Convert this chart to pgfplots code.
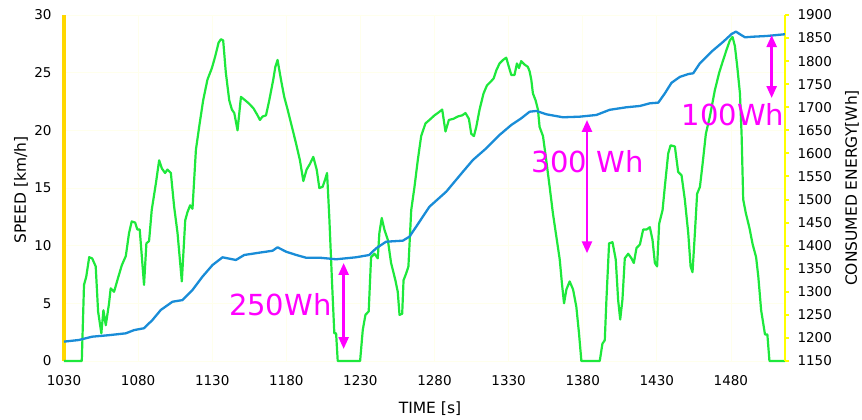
\documentclass[border=0pt]{standalone}
\usepackage{fontspec}
\setmainfont{DejaVu Sans}
\usepackage{pgfplots}
\usepackage{pgfplotstable}
\pgfplotsset{compat=1.18}
\usetikzlibrary{arrows.meta}
\definecolor{spgreen}{RGB}{30,232,60}
\definecolor{enblue}{RGB}{25,140,215}
\definecolor{goldax}{RGB}{255,215,0}
\definecolor{yelax}{RGB}{255,255,0}
\definecolor{gridc}{RGB}{255,255,236}
\definecolor{mag}{RGB}{255,0,255}

\pgfplotstableread{
t v
1030 0
1042 0
1043.5 6.6
1045 7.3
1047 9.0
1049 8.9
1051.4 8.2
1053 4.3
1055.2 2.4
1056.6 4.4
1058.2 3.1
1060.4 5.0
1061.5 6.3
1063.8 6.0
1066 7.0
1069 8.3
1071.7 9.1
1073.9 11.1
1075.7 12.1
1078 12.0
1079.5 11.4
1081.1 11.4
1084 6.6
1085.6 10.2
1087.4 10.4
1089.2 13.1
1092 15.4
1094.2 17.4
1096 16.7
1098.2 16.3
1099.8 16.6
1102.1 16.3
1104.3 13.4
1106.6 11.1
1109.5 6.9
1111.8 12.2
1113.3 12.9
1115.1 13.5
1116.7 13.2
1119 18.3
1121.2 20.3
1123.9 22.6
1126.8 24.4
1129.8 25.4
1132 26.4
1134.3 27.6
1135.9 27.9
1137.4 27.8
1139.2 25.0
1141.5 22.6
1143.3 21.8
1144.9 21.5
1147.1 20.0
1149.4 22.9
1152.3 22.6
1155 22.3
1157.9 21.9
1160.6 21.3
1162.2 20.9
1164 21.2
1166.3 21.3
1168.5 22.6
1171.2 24.4
1172.6 25.5
1174.1 26.1
1176.4 24.4
1178.6 22.9
1180.9 21.8
1183.8 20.3
1186.5 18.9
1189.2 17.4
1191.5 15.6
1193.7 16.6
1196 17.1
1198.2 17.7
1200.5 16.6
1202.3 15.0
1204.5 15.1
1206.1 15.7
1207.5 16.3
1209 12.5
1210.9 6.7
1212.4 2.4
1213.6 2.4
1214.7 0
1229.8 0
1231.6 2.7
1233.4 4.0
1235.6 4.3
1237.2 9.0
1239.5 9.3
1241.7 8.9
1242.8 11.1
1244.4 12.4
1246.2 11.4
1248.5 10.5
1250.7 8.5
1253.6 7.0
1255.2 6.0
1256.4 4.0
1258.2 4.1
1259.1 7.0
1260.9 7.6
1262.4 8.2
1264.3 13.1
1266.5 15.1
1268.7 17.4
1271 19.5
1273.9 20.6
1276.6 20.9
1280 21.3
1282.2 21.5
1285.2 21.8
1287.4 19.9
1289.7 20.9
1292.8 21.0
1295.7 21.2
1298.7 21.3
1300.9 21.5
1303.2 21.0
1304.8 19.7
1306.6 19.5
1308.2 20.3
1310.4 21.8
1313.1 23.2
1315.4 23.9
1317.8 24.2
1319.9 24.5
1321.7 25.2
1323.9 25.8
1326.2 26.1
1328.4 26.3
1330.2 25.5
1331.8 24.8
1334 24.8
1335.6 25.8
1337 25.4
1338.5 26.0
1340.8 25.7
1343 25.5
1344.2 25.1
1345.3 24.4
1346.4 23.2
1348.2 22.6
1349.8 21.8
1350.9 20.3
1353.2 19.5
1355.4 17.4
1357.7 15.1
1359.9 12.8
1362.2 10.8
1364.5 8.8
1366 6.7
1367.4 5.0
1369 6.2
1371.2 6.9
1373.5 6.2
1375.7 4.7
1377.5 2.4
1379.1 0
1391.5 0
1393.3 1.5
1394.9 1.8
1396 5.3
1397.8 10.2
1400.1 10.3
1402.3 8.8
1403.9 5.3
1405.3 3.6
1406.8 5.3
1408.4 8.9
1410.7 9.3
1412.9 8.9
1414.5 8.5
1416.3 9.8
1418.6 10.1
1420.8 11.4
1423.1 11.4
1425.3 11.6
1427.1 10.5
1428.7 8.5
1430.2 8.2
1431.6 11.9
1433.9 13.1
1435.4 15.1
1437.7 18.0
1439.3 18.7
1442.2 18.6
1444.4 16.4
1446.7 16.1
1448.9 14.0
1451.2 11.1
1452.8 8.2
1454.1 7.7
1455.7 11.1
1457.2 14.5
1459.1 15.1
1460.9 17.1
1463.1 19.7
1465.8 21.2
1469.2 23.5
1472.1 25.0
1474.8 26.1
1477.1 27.0
1479.3 27.8
1481.1 28.1
1482.7 27.3
1484.3 25.5
1486.1 23.2
1487.2 19.7
1488.3 14.0
1490.1 12.8
1492.4 11.6
1494.7 10.1
1497 9.0
1498.5 7.3
1500.4 4.4
1503 2.3
1504.6 2.3
1506 0
1516.5 0
}\speedtab

\pgfplotstableread{
t e
1030 1192
1040 1195.5
1049 1202.7
1060.4 1206
1071.7 1210
1077.3 1217
1084 1221
1089.7 1239
1095.3 1260.6
1103.2 1278.5
1109.9 1282
1116.7 1304
1123.4 1332.7
1130.2 1358
1137 1374.8
1146 1369
1151.6 1379.8
1161.8 1384.8
1170.7 1389
1174.1 1396.5
1179.8 1387
1186.5 1380
1193.2 1374
1202.3 1374
1213.6 1370.5
1227 1374.8
1236 1379.8
1240.5 1394
1247.3 1408.6
1258.6 1410.8
1263.1 1419.5
1267.6 1441
1276.6 1484.5
1287.9 1517
1299.1 1560
1305.9 1585.7
1314.9 1611
1323.9 1640
1331.8 1661.6
1338.5 1676
1344.2 1690.4
1348.7 1692
1355.4 1684.8
1366.7 1678.3
1378 1679.6
1389.2 1683.3
1398.2 1694.5
1409.5 1700
1418.6 1702.8
1425.3 1708.6
1431 1710
1435.4 1730
1439.9 1753
1445.6 1766
1451.2 1772
1454.6 1773.7
1459.1 1795.4
1466.9 1820.5
1474.8 1842
1480.5 1858.9
1483.4 1864
1486.1 1858.3
1489.5 1851.7
1495.1 1853
1504.1 1854.5
1516.4 1858.3
}\energytab

\begin{document}
\begin{tikzpicture}
\path[use as bounding box] (-64pt,-59pt) rectangle (798pt,361pt);
\begin{axis}[
  scale only axis, width=721pt, height=346pt,
  xmin=1030, xmax=1516.5, ymin=0, ymax=30,
  axis x line*=bottom, axis y line*=left,
  x axis line style={draw=none},
  y axis line style={draw=goldax, line width=4pt},
  xtick={1030,1080,...,1480}, ytick={0,5,...,30},
  major tick length=0pt,
  grid=major, major grid style={draw=gridc, line width=0.8pt},
  tick label style={font=\fontsize{13.5}{16}\selectfont},
  /pgf/number format/assume math mode=true,
  /pgf/number format/1000 sep={},
  xticklabel style={yshift=-11pt},
  yticklabel style={xshift=-9pt},
  xlabel={TIME [s]}, ylabel={SPEED [km/h]},
  label style={font=\fontsize{15.5}{18}\selectfont},
  xlabel style={at={(axis description cs:0.5076,-0.138)}, anchor=center},
  ylabel style={at={(axis description cs:-0.0596,0.494)}, anchor=center},
  clip=false,
]
\addplot[spgreen, line width=2.2pt, line join=round] table[x=t, y=v] {\speedtab};
\end{axis}
\begin{axis}[
  scale only axis, width=721pt, height=346pt,
  xmin=1030, xmax=1516.5, ymin=1150, ymax=1900,
  axis x line=none, axis y line*=right,
  y axis line style={draw=yelax, line width=2pt},
  ytick={1150,1200,...,1900},
  ytick style={draw=yelax, line width=2pt},
  tick align=outside, major tick length=4pt,
  tick label style={font=\fontsize{13.5}{16}\selectfont},
  /pgf/number format/assume math mode=true,
  /pgf/number format/1000 sep={},
  yticklabel style={xshift=5pt},
  ylabel={CONSUMED ENERGY[Wh]},
  label style={font=\fontsize{15.5}{18}\selectfont},
  ylabel style={at={(axis description cs:1.0929,0.5)}, anchor=center},
  clip=false,
]
\addplot[enblue, line width=2.3pt, line join=round] table[x=t, y=e] {\energytab};
\draw[mag, line width=2.5pt, {Triangle[width=10pt,length=12pt]}-{Triangle[width=10pt,length=12pt]}]
  (axis cs:1218.7,1362.5) -- (axis cs:1218.7,1176);
\draw[mag, line width=2.5pt, {Triangle[width=10pt,length=12pt]}-{Triangle[width=10pt,length=12pt]}]
  (axis cs:1382.9,1672.5) -- (axis cs:1382.9,1383.5);
\draw[mag, line width=2.5pt, {Triangle[width=10pt,length=12pt]}-{Triangle[width=10pt,length=12pt]}]
  (axis cs:1507.5,1856.5) -- (axis cs:1507.5,1720);
\node[mag, font=\fontsize{29}{32}\selectfont, inner sep=0pt] at (axis cs:1175.9,1271.5) {250Wh};
\node[mag, font=\fontsize{29}{32}\selectfont, inner sep=0pt] at (axis cs:1383.4,1581.5) {300 Wh};
\node[mag, font=\fontsize{29}{32}\selectfont, inner sep=0pt] at (axis cs:1481.4,1683.5) {100Wh};
\end{axis}
\end{tikzpicture}
\end{document}
